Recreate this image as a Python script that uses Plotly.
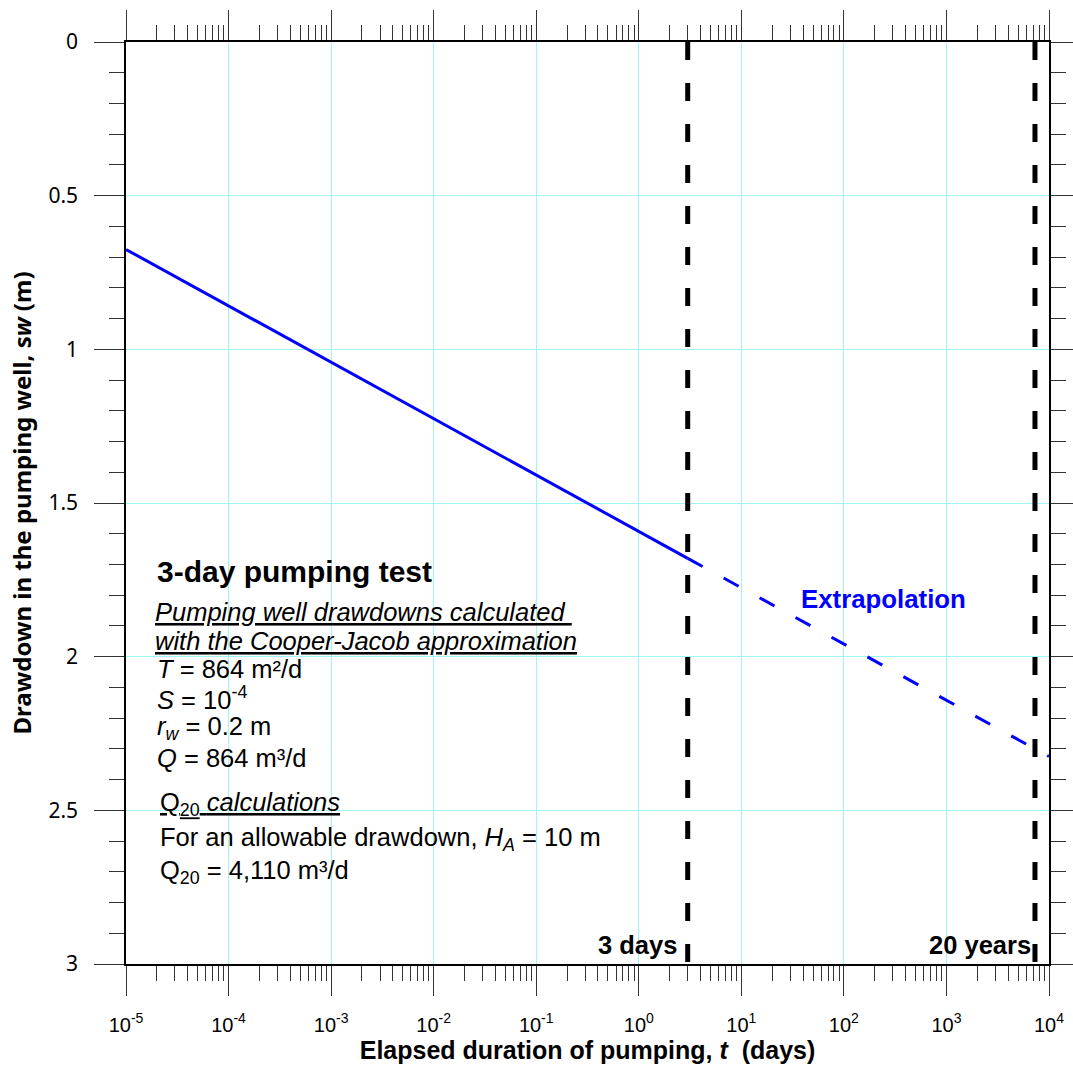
import plotly.graph_objects as go

# ---- data ----
t_measured = [1e-5, 3.0]          # days
s_measured = [0.675, 1.68]        # m
t_extrap = [3.0, 1e4]
s_extrap = [1.68, 2.325]
t_markers = [3.0, 7300.0]         # 3 days, 20 years
marker_labels = ["3 days", "20 years"]
s_span = [0.0, 3.0]

x_tickvals = [10.0 ** k for k in range(-5, 5)]
x_ticktext = ["10<sup>%d</sup>" % k for k in range(-5, 5)]

# ---- layout geometry (pixels) ----
W, H = 1073, 1072
L, R, T, B = 126, 1049, 42, 964


def px(x):
    return (x - L) / (R - L)


def py(y):
    return 1 - (y - T) / (B - T)


ARIAL = "Liberation Sans, Arial, sans-serif"
SEGOE = "Noto Sans, Open Sans, sans-serif"
GRID = "#9ef6f6"

fig = go.Figure()

fig.add_trace(go.Scatter(x=t_measured, y=s_measured, mode="lines",
                         line=dict(color="#0000ff", width=3), showlegend=False))
fig.add_trace(go.Scatter(x=t_extrap, y=s_extrap, mode="lines",
                         line=dict(color="#0000ff", width=3, dash="17px,24px"),
                         showlegend=False))
for tm in t_markers:
    fig.add_trace(go.Scatter(x=[tm, tm], y=s_span, mode="lines",
                             line=dict(color="black", width=5, dash="18px,23px"),
                             showlegend=False))

# white boxes hiding grid behind the text block
shapes = [
    dict(type="rect", xref="paper", yref="paper", layer="between",
         x0=px(140), x1=px(592), y0=py(785), y1=py(583),
         fillcolor="white", line=dict(width=0)),
    dict(type="rect", xref="paper", yref="paper", layer="between",
         x0=px(143), x1=px(620), y0=py(905), y1=py(785),
         fillcolor="white", line=dict(width=0)),
]

ann = []


def text(x, y, s, size=25.5, color="black", xanchor="left", family=ARIAL):
    ann.append(dict(x=px(x), y=py(y), xref="paper", yref="paper", text=s,
                    showarrow=False, xanchor=xanchor, yanchor="middle",
                    font=dict(family=family, size=size, color=color)))


text(155, 571, "<b>3-day pumping test</b>", size=30)
text(153, 612, "<i><u>Pumping well drawdowns calculated </u></i>")
text(153, 641, "<i><u>with the Cooper-Jacob approximation</u></i>")
text(155, 669, "<i>T</i> = 864 m²/d")
text(155, 698, "<i>S</i> = 10<sup>-4</sup>")
text(155, 728, "<i>r</i><sub><i>w</i></sub> = 0.2 m")
text(155, 758, "<i>Q</i> = 864 m³/d")
text(158, 804, "<u>Q<sub>20</sub> <i>calculations</i></u>")
text(158, 839, "For an allowable drawdown, <i>H</i><sub><i>A</i></sub> = 10 m")
text(158, 872, "Q<sub>20</sub> = 4,110 m³/d")
text(883, 599, "<b>Extrapolation</b>", size=25.8, color="#0000ff", xanchor="center")
text(679, 945, "<b>%s</b>" % marker_labels[0], xanchor="right")
text(1033, 945, "<b>%s</b>" % marker_labels[1], xanchor="right")

fig.update_layout(
    width=W, height=H,
    margin=dict(l=L, r=W - R, t=T, b=H - B, autoexpand=False),
    paper_bgcolor="white", plot_bgcolor="white",
    shapes=shapes, annotations=ann,
    showlegend=False,
)

fig.update_xaxes(
    type="log", range=[-5, 4], automargin=False,
    tickvals=x_tickvals, ticktext=x_ticktext,
    ticks="outside", ticklen=30, tickwidth=1.2, tickcolor="#333",
    minor=dict(dtick="D1", ticks="outside", ticklen=15, tickwidth=1.2,
               tickcolor="#333", showgrid=False),
    showline=True, linecolor="black", linewidth=1.5, mirror="allticks",
    showgrid=True, gridcolor=GRID, gridwidth=1, zeroline=False,
    tickfont=dict(family=ARIAL, size=20, color="black"),
    ticklabelstandoff=12,
    title=dict(text="<b>Elapsed duration of pumping, <i>t</i>  (days)</b>",
               font=dict(family=ARIAL, size=25, color="black"), standoff=4),
)

fig.update_yaxes(
    range=[3, 0], tick0=0, dtick=0.5, automargin=False,
    ticks="outside", ticklen=30, tickwidth=1.2, tickcolor="#333",
    minor=dict(dtick=0.1, ticks="outside", ticklen=15, tickwidth=1.2,
               tickcolor="#333", showgrid=False),
    showline=True, linecolor="black", linewidth=1.5, mirror="allticks",
    showgrid=True, gridcolor=GRID, gridwidth=1, zeroline=False,
    tickfont=dict(family=SEGOE, size=21, color="black"),
    ticklabelstandoff=12,
    title=dict(text="<b>Drawdown in the pumping well, s<i>w</i> (m)</b>",
               font=dict(family=SEGOE, size=24, color="black"), standoff=10),
)

fig.write_html("out.html")
